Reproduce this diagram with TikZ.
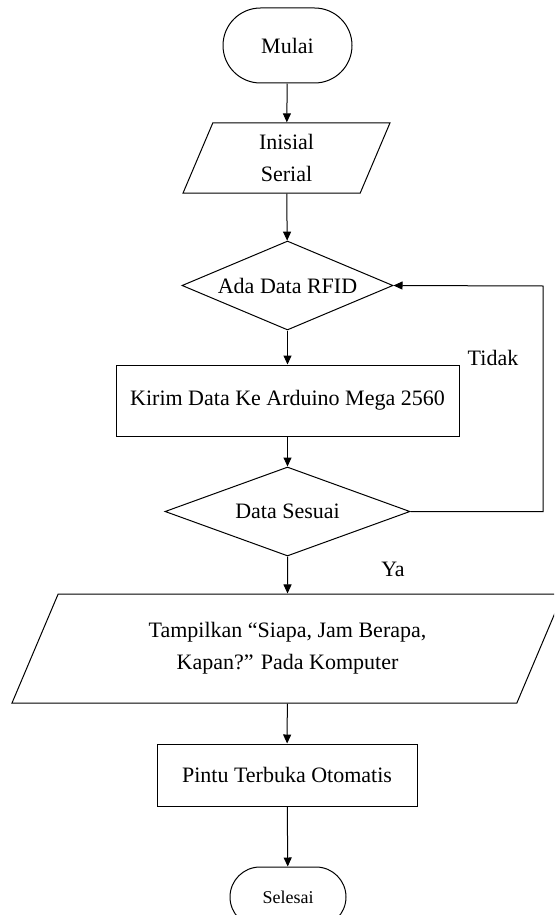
\documentclass[tikz,border=0pt]{standalone}
\usepackage{fontspec}
\setmainfont{Liberation Serif}
\usetikzlibrary{shapes.geometric,shapes.misc,arrows.meta}

\begin{document}
\begin{tikzpicture}[x=0.5pt,y=-0.5pt,line width=0.5pt]
        \tikzstyle{every node}=[font=\fontsize{11}{16}\selectfont]
        \tikzstyle{terminal}=[draw,rounded rectangle,inner sep=0pt]
        \tikzstyle{datanode}=[draw,trapezium,trapezium left angle=67,trapezium right angle=113,trapezium stretches body,inner xsep=0pt,align=center]
        \tikzstyle{proses}=[draw,rectangle,inner sep=0pt]
        \tikzstyle{keputusan}=[draw,diamond,aspect=2.4,inner sep=0pt]
        \tikzstyle{panah}=[-{Triangle[length=4.5pt,width=4pt]}]
        \useasboundingbox (0,0) rectangle (554,915);
        \clip (0,0) rectangle (554,915);
        % simpul
        \node[terminal,minimum width=64.5pt,minimum height=37.5pt] (mulai) at (287.5,45.5) {Mulai};
        \node[datanode,inner ysep=5.7pt,minimum width=103.5pt,minimum height=35pt] (inisial) at (286.5,158) {Inisial\\Serial};
        \node[keputusan,minimum width=105.5pt,minimum height=44.5pt] (ada) at (287.5,285.5) {Ada Data RFID};
        \node[proses,minimum width=171.5pt,minimum height=35.5pt] (kirim) at (287.5,400.5) {Kirim Data Ke Arduino Mega 2560};
        \node[keputusan,minimum width=122.5pt,minimum height=44.5pt] (sesuai) at (287.5,511.5) {Data Sesuai};
        \node[datanode,inner ysep=14.2pt,minimum width=275.5pt,minimum height=54.5pt] (tampil) at (287.5,648.5) {Tampilkan “Siapa, Jam Berapa,\\Kapan?” Pada Komputer};
        \node[proses,minimum width=130pt,minimum height=31pt] (pintu) at (287,775) {Pintu Terbuka Otomatis};
        \node[terminal,minimum width=58pt,minimum height=30pt,font=\fontsize{9}{11}\selectfont] (selesai) at (288,897) {Selesai};
        \node (tidak) at (493,358) {Tidak};
        \node (ya) at (393,569) {Ya};
        \coordinate (kanan) at (543,286);
        % alur
        \draw[panah] (mulai) -- (inisial);
        \draw[panah] (inisial) -- (ada);
        \draw[panah] (ada) -- (kirim);
        \draw[panah] (kirim) -- (sesuai);
        \draw[panah] (sesuai) -- (tampil);
        \draw[panah] (tampil) -- (pintu);
        \draw[panah] (pintu) -- (selesai);
        \draw[panah] (sesuai.east) -| (kanan) -- (ada.east);
\end{tikzpicture}
\end{document}
